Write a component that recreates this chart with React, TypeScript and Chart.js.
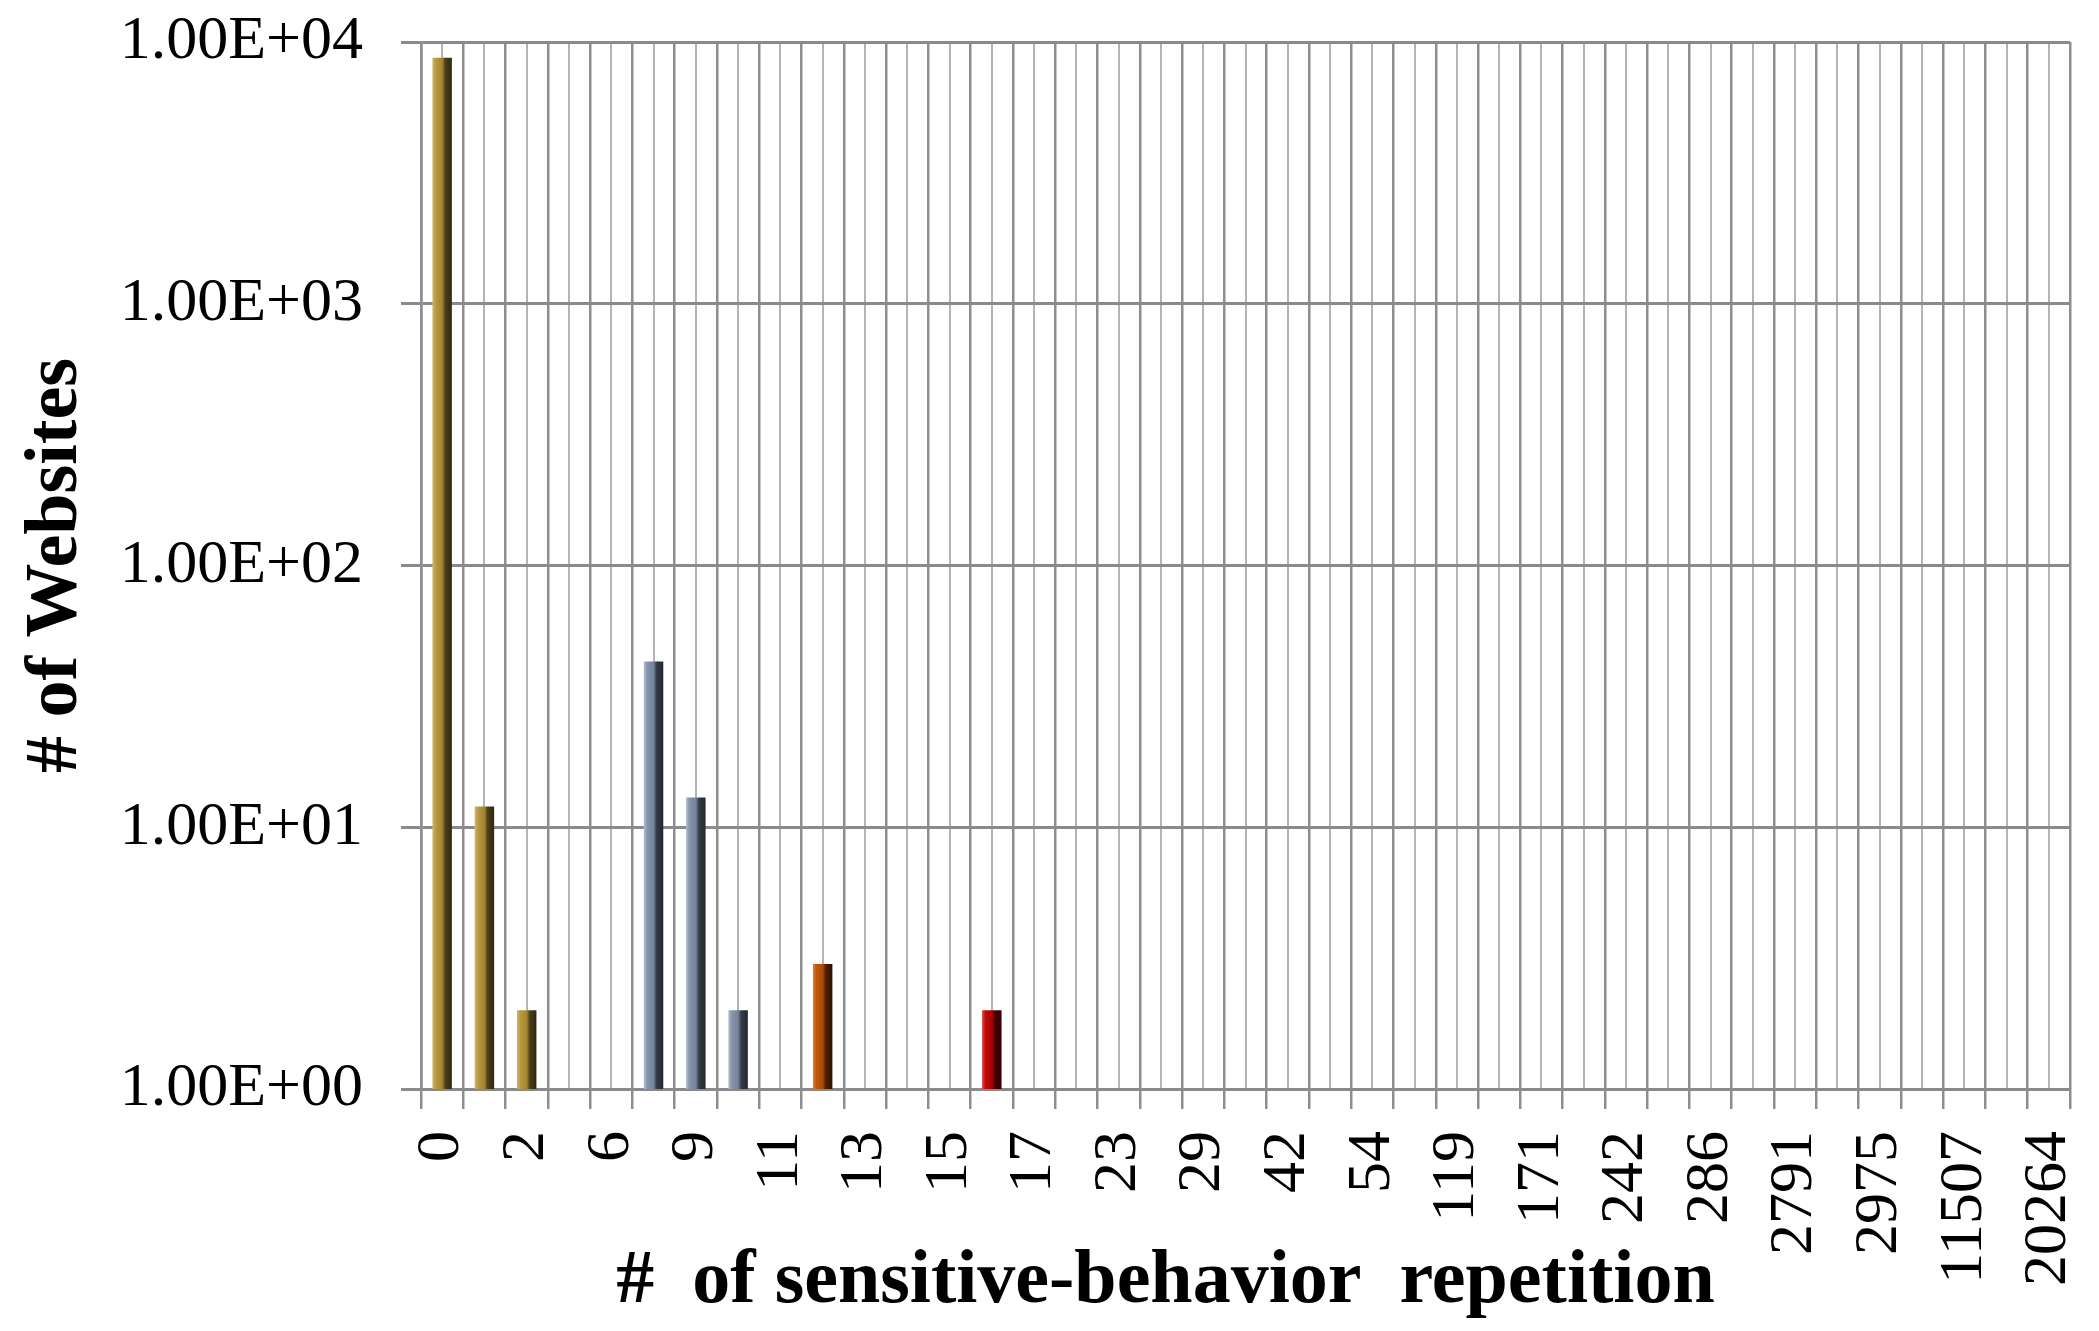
import { useEffect, useRef } from 'react';
import { Chart, registerables, type Plugin, type ScriptableContext } from 'chart.js';

Chart.register(...registerables);

// x categories (every other one is labelled on the axis)
const categories = [
  '0', '1', '2', '3', '6', '8', '9', '10', '11', '12', '13', '14', '15', '16', '17', '19',
  '23', '26', '29', '35', '42', '47', '54', '87', '119', '143', '171', '205', '242', '263',
  '286', '1024', '2791', '2869', '2975', '6238', '11507', '15830', '20264',
];
const websites = [
  8700, 12, 2, 1, 1, 43, 13, 2, 1, 3, 1, 1, 1, 2, 1, 1,
  1, 1, 1, 1, 1, 1, 1, 1, 1, 1, 1, 1, 1, 1,
  1, 1, 1, 1, 1, 1, 1, 1, 1,
];
const yTicks = [1, 10, 100, 1000, 10000];
const xTitle = '#  of sensitive-behavior  repetition';
const yTitle = '# of Websites';

const tones: Record<string, string[]> = {
  gold: ['#d2b76a', '#b8983f', '#a4862f', '#4c3f1a', '#2f2810'],
  blue: ['#b0bccf', '#8593ab', '#75839b', '#343b47', '#22262e'],
  orange: ['#dc7f38', '#c0580c', '#aa4a06', '#4e1f02', '#2e1000'],
  red: ['#dc4a44', '#c20c0c', '#aa0000', '#4c0000', '#2c0000'],
};
const toneOf = (i: number) => (i <= 2 ? 'gold' : i <= 7 ? 'blue' : i <= 10 ? 'orange' : 'red');

const BAR_PCT = 0.46;
const FONT = '"Liberation Serif", "Times New Roman", serif';

function barFill(c: ScriptableContext<'bar'>) {
  const chart = c.chart;
  const xs = chart.scales.x;
  const stops = tones[toneOf(c.dataIndex)];
  if (!xs || !chart.chartArea) return stops[2];
  const cx = xs.getPixelForValue(c.dataIndex);
  const half = (xs.width / categories.length) * BAR_PCT / 2;
  const g = chart.ctx.createLinearGradient(cx - half, 0, cx + half, 0);
  g.addColorStop(0, stops[0]);
  g.addColorStop(0.18, stops[1]);
  g.addColorStop(0.5, stops[2]);
  g.addColorStop(0.66, stops[3]);
  g.addColorStop(1, stops[4]);
  return g;
}

const axisTitles: Plugin<'bar'> = {
  id: 'axisTitles',
  afterDraw(chart) {
    const { ctx, chartArea } = chart;
    ctx.save();
    ctx.fillStyle = '#000';
    ctx.textAlign = 'center';
    ctx.textBaseline = 'middle';
    ctx.font = `bold 74px ${FONT}`;
    ctx.translate(57, (chartArea.top + chartArea.bottom) / 2);
    ctx.rotate(-Math.PI / 2);
    ctx.fillText(yTitle, 0, 0);
    ctx.restore();

    ctx.save();
    ctx.fillStyle = '#000';
    ctx.textAlign = 'center';
    ctx.textBaseline = 'alphabetic';
    ctx.font = `bold 76px ${FONT}`;
    ctx.fillText(xTitle, (chartArea.left + chartArea.right) / 2 - 80, 1302);
    ctx.restore();
  },
};

function RepetitionChart() {
  const canvasRef = useRef<HTMLCanvasElement>(null);

  useEffect(() => {
    const canvas = canvasRef.current;
    if (!canvas) return;
    const chart = new Chart(canvas, {
      type: 'bar',
      data: {
        labels: categories,
        datasets: [
          {
            data: websites,
            backgroundColor: barFill,
            borderWidth: 0,
            categoryPercentage: 1,
            barPercentage: BAR_PCT,
          },
        ],
      },
      plugins: [axisTitles],
      options: {
        responsive: true,
        maintainAspectRatio: false,
        animation: false,
        layout: { padding: { top: 42, right: 29, left: 0, bottom: 0 } },
        plugins: { legend: { display: false }, tooltip: { enabled: false } },
        scales: {
          x: {
            type: 'category',
            offset: true,
            grid: { offset: true, color: '#8e8e8e', lineWidth: 2.5, tickLength: 20 },
            border: { color: '#8a8a8a', width: 3 },
            ticks: {
              autoSkip: false,
              minRotation: 90,
              maxRotation: 90,
              padding: 22,
              color: '#000',
              font: { family: FONT, size: 62 },
              callback: (_v, i) => (i % 2 === 0 ? categories[i] : ''),
            },
            afterFit: (s) => {
              s.height = 242;
              s.paddingLeft = 0;
              s.paddingRight = 0;
            },
          },
          x2: {
            type: 'category',
            position: 'bottom',
            offset: true,
            grid: { offset: false, color: '#b4b4b4', lineWidth: 2, drawTicks: false },
            border: { display: false },
            ticks: { display: false },
            afterFit: (s) => {
              s.height = 0;
              s.paddingLeft = 0;
              s.paddingRight = 0;
            },
          },
          y: {
            type: 'logarithmic',
            min: 1,
            max: 10000,
            grid: { color: '#8a8a8a', lineWidth: 3, tickLength: 20 },
            border: { color: '#8e8e8e', width: 2.5 },
            afterBuildTicks: (s) => {
              s.ticks = yTicks.map((value) => ({ value }));
            },
            ticks: {
              padding: 38,
              color: '#000',
              font: { family: FONT, size: 62 },
              callback: (v) => {
                const e = Math.round(Math.log10(Number(v)));
                const m = (Number(v) / Math.pow(10, e)).toFixed(2);
                return `${m}E${e < 0 ? '-' : '+'}${String(Math.abs(e)).padStart(2, '0')}`;
              },
            },
            afterFit: (s) => {
              s.width = 421;
              s.paddingTop = 0;
              s.paddingBottom = 0;
            },
          },
        },
      },
    });
    return () => chart.destroy();
  }, []);

  return (
    <div style={{ position: 'relative', width: 2099, height: 1331 }}>
      <canvas ref={canvasRef} />
    </div>
  );
}

export default function App() {
  useEffect(() => {
    document.body.style.margin = '0';
  }, []);
  return <RepetitionChart />;
}
